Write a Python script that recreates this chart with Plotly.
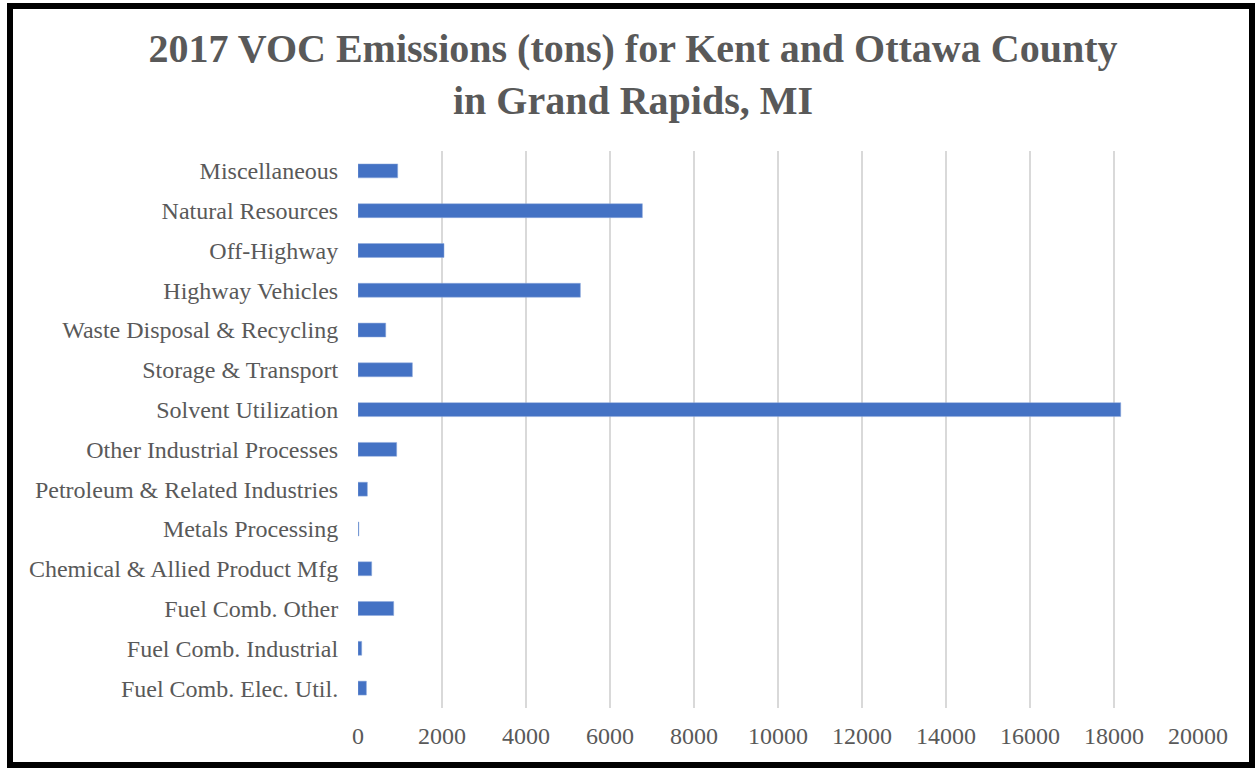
import plotly.graph_objects as go

categories = [
    "Fuel Comb. Elec. Util.",
    "Fuel Comb. Industrial",
    "Fuel Comb. Other",
    "Chemical & Allied Product Mfg",
    "Metals Processing",
    "Petroleum & Related Industries",
    "Other Industrial Processes",
    "Solvent Utilization",
    "Storage & Transport",
    "Waste Disposal & Recycling",
    "Highway Vehicles",
    "Off-Highway",
    "Natural Resources",
    "Miscellaneous",
]
values = [200, 88, 850, 326, 20, 223, 921, 18160, 1295, 660, 5295, 2048, 6771, 945]
x_ticks = [0, 2000, 4000, 6000, 8000, 10000, 12000, 14000, 16000, 18000, 20000]

W, H = 1259, 768
L, R, T, B = 358, 61, 151, 60
pw, ph = W - L - R, H - T - B

def px_to_paper_x(p):
    return (p - L) / pw

def px_to_paper_y(p):
    return (H - B - p) / ph

fig = go.Figure(go.Bar(
    x=values, y=categories, orientation="h",
    marker=dict(color="#4472C4", line=dict(color="#8FAADC", width=0.5)),
))

font_fam = "Liberation Serif, Times New Roman, serif"

fig.update_layout(
    width=W, height=H,
    margin=dict(l=L, r=R, t=T, b=B),
    paper_bgcolor="white", plot_bgcolor="white",
    bargap=0.65,
    showlegend=False,
    title=dict(
        text="<b>2017 VOC Emissions (tons) for Kent and Ottawa County<br>in Grand Rapids, MI</b>",
        x=633 / W, xanchor="center", y=1 - 62 / H, yanchor="middle",
        font=dict(family=font_fam, size=40, color="#595959"),
    ),
    font=dict(family=font_fam, color="#595959"),
)
fig.update_xaxes(
    range=[0, 20000], tickvals=x_ticks, ticktext=[str(v) for v in x_ticks],
    showgrid=True, gridcolor="#D9D9D9", gridwidth=1.5,
    zeroline=False, showline=False,
    ticks="outside", ticklen=6, tickcolor="white",
    tickfont=dict(family=font_fam, size=24, color="#595959"),
)
fig.update_yaxes(
    showgrid=False, zeroline=False, showline=False,
    ticks="outside", ticklen=14, tickcolor="white",
    tickfont=dict(family=font_fam, size=24, color="#595959"),
)
fig.add_shape(
    type="rect", xref="paper", yref="paper",
    x0=px_to_paper_x(10), x1=px_to_paper_x(1252),
    y0=px_to_paper_y(765), y1=px_to_paper_y(6),
    line=dict(color="black", width=6), fillcolor="rgba(0,0,0,0)",
    layer="above",
)
fig.write_html(
    "out.html",
    config={"displayModeBar": False},
    post_script="document.body.style.margin='0';document.body.style.padding='0';document.body.style.overflow='hidden';",
)
